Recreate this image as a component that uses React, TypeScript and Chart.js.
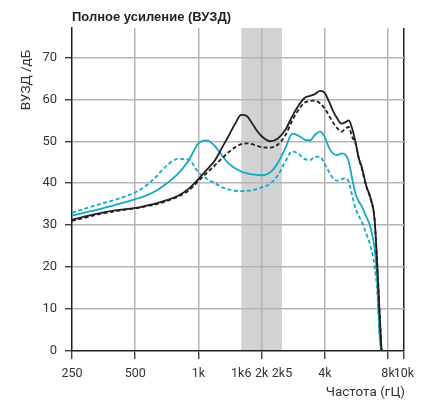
import { useEffect, useRef } from 'react';
import { Chart, registerables } from 'chart.js';

Chart.register(...registerables);

const TITLE = 'Полное усиление (ВУЗД)';
const Y_TITLE = 'ВУЗД /дБ';
const X_TITLE = 'Частота (гЦ)';

const FREQ = [
  250, 300, 350, 400, 450, 500, 560, 630, 700, 800, 900, 1000, 1100, 1200, 1300, 1400,
  1500, 1600, 1700, 1800, 1900, 2000, 2200, 2400, 2600, 2800, 3000, 3200, 3400, 3600,
  3800, 4000, 4200, 4400, 4600, 4800, 5000, 5200, 5400, 5600, 5800, 6000, 6300, 6600,
  6900, 7100, 7300, 7450,
];

const BLACK_SOLID = [
  31.3, 32.3, 33.0, 33.5, 33.8, 34.1, 34.6, 35.2, 35.9, 37.0, 38.7, 41.0, 43.3, 45.5, 48.6, 51.5,
  54.3, 56.3, 56.0, 54.3, 52.5, 51.2, 50.0, 50.7, 52.8, 56.0, 58.5, 60.3, 60.8, 61.3,
  62.0, 61.5, 59.3, 57.0, 55.3, 54.2, 54.5, 55.0, 53.0, 49.8, 46.0, 43.8, 39.4, 36.5,
  31.5, 21.0, 8.5, 0,
];

const BLACK_DASHED = [
  31.0, 32.0, 32.8, 33.3, 33.7, 34.0, 34.5, 35.0, 35.7, 36.8, 38.3, 40.5, 42.5, 44.3, 46.0, 47.5,
  48.6, 49.3, 49.5, 49.3, 48.9, 48.6, 48.5, 49.3, 51.5, 55.0, 57.5, 59.2, 59.6, 59.7,
  59.0, 57.8, 56.0, 54.3, 53.0, 52.3, 53.0, 53.4, 51.0, 49.5, 46.0, 43.5, 39.2, 36.3,
  31.3, 21.0, 8.5, 0,
];

const CYAN_SOLID = [
  32.3, 33.2, 34.0, 34.8, 35.5, 36.2, 37.0, 38.2, 39.8, 42.3, 45.5, 49.5, 50.2, 48.8, 46.5, 44.6,
  43.5, 42.8, 42.4, 42.1, 42.0, 41.9, 42.6, 45.0, 48.5, 51.8, 51.3, 50.4, 50.2, 51.6,
  52.3, 51.0, 48.3, 47.0, 46.7, 47.1, 46.8, 45.2, 41.0, 37.5, 35.7, 34.5, 32.0, 29.5,
  24.5, 17.5, 4.0, 0,
];

const CYAN_DASHED = [
  33.0, 34.2, 35.2, 36.0, 36.9, 37.8, 39.3, 41.6, 44.0, 45.8, 45.6, 42.6, 41.0, 40.0, 39.0, 38.5,
  38.2, 38.1, 38.2, 38.3, 38.6, 39.0, 39.9, 42.0, 45.3, 47.6, 47.0, 45.8, 45.5, 46.3,
  46.3, 44.5, 42.6, 41.0, 40.6, 40.9, 41.2, 40.3, 37.0, 34.0, 32.2, 30.8, 28.0, 25.0,
  20.3, 14.5, 3.0, 0,
];

const X_TICKS = [250, 500, 1000, 1600, 2000, 2500, 4000, 8000, 9530];
const X_LABELS = ['250', '500', '1k', '1k6', '2k', '2k5', '4k', '8k', '10k'];
const X_NO_GRID = [1600, 2500];
const Y_TICKS = [0, 10, 20, 30, 40, 50, 60, 70];
const BAND = [1600, 2500];

const BLACK = '#231f20';
const CYAN = '#14a9c1';
const GRID = '#b4b4b4';
const BAND_COLOR = '#d1d2d4';
const FONT = 'Roboto, "Liberation Sans", sans-serif';

const toPoints = (vals: number[]) => FREQ.map((f, i) => ({ x: f, y: vals[i] }));

const decor = {
  id: 'decor',
  beforeDraw(chart: any) {
    const { ctx, chartArea, scales } = chart;
    const x = scales.x;
    const x0 = x.getPixelForValue(BAND[0]);
    const x1 = x.getPixelForValue(BAND[1]);
    ctx.save();
    ctx.fillStyle = BAND_COLOR;
    ctx.fillRect(x0, chartArea.top, x1 - x0, chartArea.bottom - chartArea.top);
    ctx.restore();
  },
  afterDraw(chart: any) {
    const { ctx, chartArea } = chart;
    ctx.save();
    ctx.fillStyle = BLACK;
    ctx.font = `bold 13px "Liberation Sans", Arial, sans-serif`;
    ctx.textAlign = 'left';
    ctx.textBaseline = 'alphabetic';
    ctx.fillText(TITLE, chartArea.left, 21);

    ctx.font = `13.5px ${FONT}`;
    ctx.fillStyle = '#333';
    ctx.textAlign = 'right';
    ctx.fillText(X_TITLE, chartArea.right + 1, 396);

    ctx.translate(29.5, 80);
    ctx.rotate(-Math.PI / 2);
    ctx.textAlign = 'center';
    ctx.fillText(Y_TITLE, 0, 0);
    ctx.restore();
  },
};

export default function App() {
  const ref = useRef<HTMLCanvasElement | null>(null);

  useEffect(() => {
    document.body.style.margin = '0';
    const canvas = ref.current;
    if (!canvas) return;
    const line = (data: number[], color: string, dashed: boolean) => ({
      data: toPoints(data),
      borderColor: color,
      backgroundColor: color,
      borderWidth: 1.8,
      borderDash: dashed ? [4, 2.5] : [],
      pointRadius: 0,
      fill: false,
      cubicInterpolationMode: 'monotone' as const,
    });
    const chart = new Chart(canvas, {
      type: 'line',
      data: {
        datasets: [
          line(BLACK_SOLID, BLACK, false),
          line(BLACK_DASHED, BLACK, true),
          line(CYAN_SOLID, CYAN, false),
          line(CYAN_DASHED, CYAN, true),
        ],
      },
      options: {
        animation: false,
        responsive: false,
        devicePixelRatio: 1,
        layout: { padding: { top: 28, right: 26, left: 0, bottom: 0 } },
        plugins: { legend: { display: false }, tooltip: { enabled: false }, title: { display: false } },
        scales: {
          x: {
            type: 'logarithmic',
            min: 250,
            max: 9530,
            afterBuildTicks: (axis: any) => {
              axis.ticks = X_TICKS.map((v) => ({ value: v }));
            },
            afterFit: (axis: any) => {
              axis.height = 49;
            },
            ticks: {
              autoSkip: false,
              maxRotation: 0,
              minRotation: 0,
              padding: 7,
              color: '#333',
              font: { family: FONT, size: 12.5 },
              callback: (_v: any, i: number) => X_LABELS[i],
            },
            grid: {
              color: (c: any) => {
                const v = c.tick?.value;
                if (v === 250 || X_NO_GRID.includes(v)) return 'rgba(0,0,0,0)';
                if (v === X_TICKS[X_TICKS.length - 1]) return BLACK;
                return GRID;
              },
              lineWidth: 1.5,
              tickColor: (c: any) => (X_NO_GRID.includes(c.tick?.value) ? 'rgba(0,0,0,0)' : BLACK),
              tickLength: 8,
              tickWidth: 1.2,
            },
            border: { display: true, color: BLACK, width: 1.5 },
          },
          y: {
            type: 'linear',
            min: 0,
            max: 77,
            afterBuildTicks: (axis: any) => {
              axis.ticks = Y_TICKS.map((v) => ({ value: v }));
            },
            afterFit: (axis: any) => {
              axis.width = 72;
            },
            ticks: {
              padding: 8,
              color: '#333',
              font: { family: FONT, size: 13 },
            },
            grid: {
              color: (c: any) => (c.tick?.value === 0 ? 'rgba(0,0,0,0)' : GRID),
              lineWidth: 1.5,
              tickColor: BLACK,
              tickLength: 7,
              tickWidth: 1.2,
            },
            border: { display: true, color: BLACK, width: 1.5 },
          },
        },
      },
      plugins: [decor],
    });
    return () => chart.destroy();
  }, []);

  return <canvas ref={ref} width={430} height={400} style={{ display: 'block' }} />;
}
